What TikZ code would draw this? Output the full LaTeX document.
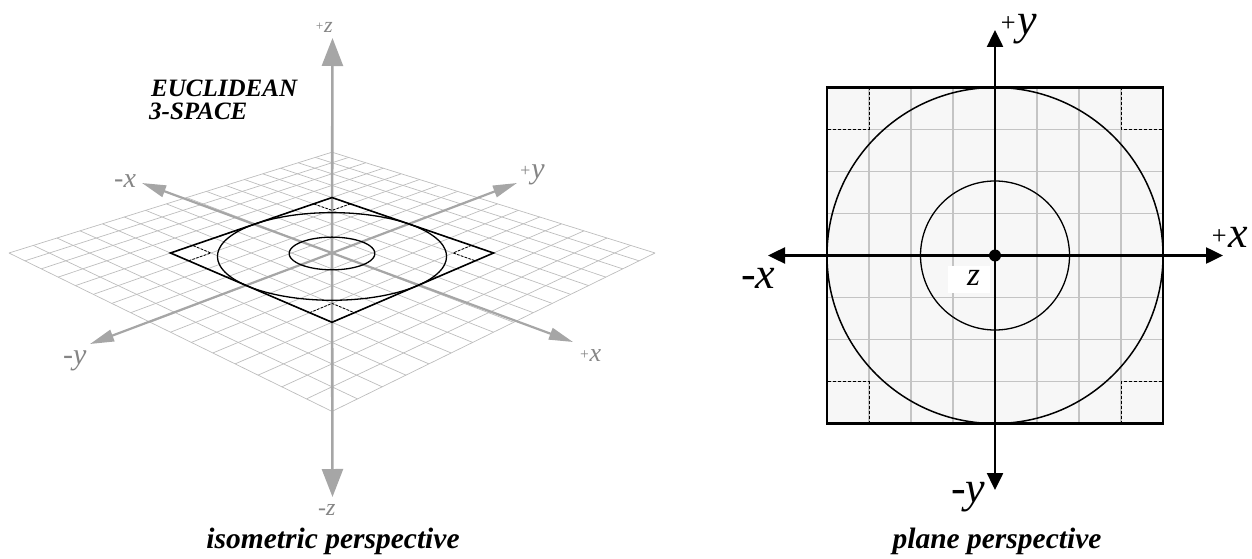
\documentclass[tikz,border=0pt]{standalone}
\usepackage{fontspec}
\usepackage{graphicx}
\setmainfont{Liberation Serif}
\usetikzlibrary{arrows.meta}
\definecolor{gridgray}{HTML}{BDBDBD}
\definecolor{axisgray}{HTML}{A6A6A6}
\definecolor{labelgray}{HTML}{858585}
\definecolor{planefill}{HTML}{F7F7F7}
\definecolor{planegrid}{HTML}{C4C4C4}
\newcommand\smplus[1]{\raisebox{#1}{\scalebox{0.6}{+}}}
\makeatletter
\def\isoparse#1,#2\relax{%
  \pgfmathsetmacro\iso@d{1-0.01389*((#1)-(#2))}%
  \pgfmathsetmacro\iso@X{332+20.19*((#1)+(#2))/\iso@d}%
  \pgfmathsetmacro\iso@Y{253+7.7*((#1)-(#2))/\iso@d}%
  \pgfpoint{\iso@X pt}{-\iso@Y pt}}
\tikzdeclarecoordinatesystem{iso}{\isoparse#1\relax}
\makeatother
\begin{document}
\begin{tikzpicture}[x=1pt,y=-1pt,
  gridline/.style={draw=gridgray, line width=0.7pt},
  axisxy/.style={draw=axisgray, line width=2.2pt, -{Triangle[length=24pt,width=12pt]}},
  axisz/.style={draw=axisgray, line width=2.6pt, -{Triangle[length=28pt,width=21pt]}},
  inkline/.style={draw=black, line width=1.6pt, line join=miter},
  thinink/.style={draw=black, line width=1.3pt},
  cornermark/.style={draw=black, line width=0.8pt, dash pattern=on 2.5pt off 1.5pt},
  lablL/.style={text=labelgray, inner sep=0pt, anchor=base west},
  lablR/.style={text=black, inner sep=0pt, anchor=base west, font=\fontsize{44}{44}\selectfont\itshape},
  captionfont/.style={inner sep=0pt, anchor=base, font=\fontsize{29.5}{30}\selectfont\bfseries\itshape},
  titlefont/.style={inner sep=0pt, anchor=base west, font=\fontsize{25}{23}\selectfont\bfseries\itshape},
  planegridline/.style={draw=planegrid, line width=1.4pt},
  planeaxis/.style={draw=black, line width=2.5pt, -{Triangle[length=17pt,width=16pt]}},
  planecorner/.style={draw=black, line width=0.8pt, dash pattern=on 3pt off 2pt}
]
\useasboundingbox (0,0) rectangle (1252,559);

% ================= LEFT: isometric perspective =================
\foreach \i in {-8,...,8} {
  \draw[gridline] (iso cs:\i,-8) -- (iso cs:\i,8);
  \draw[gridline] (iso cs:-8,\i) -- (iso cs:8,\i);
}
\coordinate (O) at (iso cs:0,0);
\coordinate (xplus) at (573,342);
\coordinate (xminus) at (142,183);
\coordinate (yplus) at (517,183);
\coordinate (yminus) at (90,344);
\coordinate (zplus) at (332.5,38);
\coordinate (zminus) at (332.5,497);
\draw[axisxy] (O) -- (xplus);
\draw[axisxy] (O) -- (xminus);
\draw[axisxy] (O) -- (yplus);
\draw[axisxy] (O) -- (yminus);
\draw[axisz] (O) -- (zplus);
\draw[axisz] (O) -- (zminus);

\draw[inkline] (iso cs:-4,-4) -- (iso cs:4,-4) -- (iso cs:4,4) -- (iso cs:-4,4) -- cycle;
\draw[thinink] plot[smooth cycle, samples=72, domain=0:355] (iso cs:{4*cos(\x)},{4*sin(\x)});
\draw[thinink] plot[smooth cycle, samples=72, domain=0:355] (iso cs:{1.5*cos(\x)},{1.5*sin(\x)});
\draw[cornermark] (iso cs:3,4) -- (iso cs:3,3) -- (iso cs:4,3);
\draw[cornermark] (iso cs:-3,-4) -- (iso cs:-3,-3) -- (iso cs:-4,-3);
\draw[cornermark] (iso cs:3,-4) -- (iso cs:3,-3) -- (iso cs:4,-3);
\draw[cornermark] (iso cs:-3,4) -- (iso cs:-3,3) -- (iso cs:-4,3);

\node[lablL, font=\fontsize{22}{22}\selectfont\itshape] (lzp) at (315,33) {\smplus{2pt}z};
\node[lablL, font=\fontsize{24}{24}\selectfont\itshape] (lzm) at (318,515) {-z};
\node[lablL, font=\fontsize{28}{28}\selectfont\itshape] (lxm) at (114,187) {-x};
\node[lablL, font=\fontsize{30}{30}\selectfont\itshape] (lym) at (63,364) {-y};
\node[lablL, font=\fontsize{30}{30}\selectfont\itshape] (lyp) at (519,178) {\smplus{2pt}y};
\node[lablL, font=\fontsize{26}{26}\selectfont\itshape] (lxp) at (579,361) {\smplus{2pt}x};

\node[titlefont] (t1) at (151,97) {EUCLIDEAN};
\node[titlefont] (t2) at (149,120) {3-SPACE};
\node[captionfont] (capL) at (333,548) {isometric perspective};

% ================= RIGHT: plane perspective =================
\coordinate (C) at (995,255.5);
\fill[planefill] (827,87.5) rectangle (1163,423.5);
\foreach \k in {1,...,7} {
  \draw[planegridline] ({827+42*\k},87.5) -- ({827+42*\k},423.5);
  \draw[planegridline] (827,{87.5+42*\k}) -- (1163,{87.5+42*\k});
}
\draw[planecorner] (869,87.5) -- (869,129.5) -- (827,129.5);
\draw[planecorner] (1121,87.5) -- (1121,129.5) -- (1163,129.5);
\draw[planecorner] (869,423.5) -- (869,381.5) -- (827,381.5);
\draw[planecorner] (1121,423.5) -- (1121,381.5) -- (1163,381.5);
\fill[white] (948,266) rectangle (990,293);
\draw[black, line width=1.5pt] (C) circle (168pt);
\draw[black, line width=1.3pt] (C) circle (74.5pt);
\draw[black, line width=2.6pt] (827,87.5) rectangle (1163,423.5);

\coordinate (Ryp) at (995,30);
\coordinate (Rym) at (995,490);
\coordinate (Rxp) at (1223,255.5);
\coordinate (Rxm) at (768,255.5);
\draw[planeaxis] (C) -- (Ryp);
\draw[planeaxis] (C) -- (Rym);
\draw[planeaxis] (C) -- (Rxp);
\draw[planeaxis] (C) -- (Rxm);
\fill[black] (C) circle (6pt);

\node[lablR] (ryp) at (999,35) {\smplus{3pt}y};
\node[lablR] (rxp) at (1210,247) {\smplus{3pt}x};
\node[lablR] (rxm) at (741,288) {-x};
\node[lablR] (rym) at (951,502) {-y};
\node[lablR, font=\fontsize{33}{33}\selectfont\itshape] (rz) at (967,285) {z};
\node[captionfont] (capR) at (997,548) {plane perspective};
\end{tikzpicture}
\end{document}
